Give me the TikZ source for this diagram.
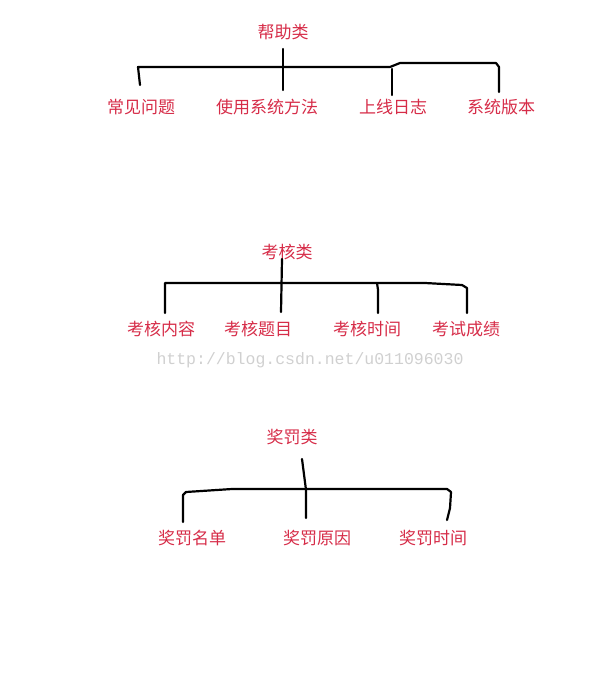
\documentclass[tikz,border=0pt]{standalone}
\usepackage{fontspec}
\newfontfamily\cjk{Noto Sans CJK SC}
\setmonofont{Liberation Mono}
\definecolor{labelred}{RGB}{214,44,72}
\definecolor{markgray}{RGB}{208,208,208}
\tikzset{
  item/.style={text=labelred, font=\cjk\fontsize{17}{19}\selectfont, inner sep=0pt},
  branch/.style={line width=2.2pt, line cap=round, line join=round},
}

\begin{document}
\begin{tikzpicture}[x=1pt, y=-1pt]
        \useasboundingbox (0,0) rectangle (600,700);

        % Help
        \node [item] (help) at (283,32) {帮助类};
        \node [item] (help1) at (141,107) {常见问题};
        \node [item] (help2) at (267,107) {使用系统方法};
        \node [item] (help3) at (393,107) {上线日志};
        \node [item] (help4) at (501,107) {系统版本};

        \coordinate (hTop) at (283,49);
        \coordinate (hStem) at (283,90);
        \coordinate (hL) at (138,67);
        \coordinate (hEnd1) at (140,85);
        \coordinate (hBend) at (390,67);
        \coordinate (hRaise) at (400,63);
        \coordinate (hR) at (496,63);
        \coordinate (hEnd4) at (499,92);
        \coordinate (hJoin3) at (392,69);
        \coordinate (hEnd3) at (392,95);

        \draw [branch] (hTop) -- (hStem);
        \draw [branch] (hEnd1) -- (hL) -- (hBend) -- (hRaise) -- (hR) -- ++(3,4) -- (hEnd4);
        \draw [branch] (hJoin3) -- (hEnd3);

        % Exam
        \node [item] (exam) at (287,252) {考核类};
        \node [item] (exam1) at (161,329) {考核内容};
        \node [item] (exam2) at (258,329) {考核题目};
        \node [item] (exam3) at (367,329) {考核时间};
        \node [item] (exam4) at (466,329) {考试成绩};

        \coordinate (eTop) at (282,259);
        \coordinate (eStem) at (281,312);
        \coordinate (eL) at (165,283);
        \coordinate (eEnd1) at (165,313);
        \coordinate (eBend) at (425,283);
        \coordinate (eR) at (462,285);
        \coordinate (eEnd4) at (467,313);
        \coordinate (eJoin3) at (377,283);
        \coordinate (eEnd3) at (378,313);

        \draw [branch] (eTop) -- (eStem);
        \draw [branch] (eEnd1) -- ++(0,-27) -- (eL) -- (eBend) -- (eR) -- ++(5,3) -- (eEnd4);
        \draw [branch] (eJoin3) -- ++(1,7) -- (eEnd3);

        % Watermark
        \node [text=markgray, font=\ttfamily\fontsize{16.5}{18}\selectfont, inner sep=0pt] (mark) at (310,360) {http://blog.csdn.net/u011096030};

        % Prize
        \node [item] (prize) at (292,437) {奖罚类};
        \node [item] (prize1) at (192,538) {奖罚名单};
        \node [item] (prize2) at (317,538) {奖罚原因};
        \node [item] (prize3) at (433,538) {奖罚时间};

        \coordinate (pTop) at (302,459);
        \coordinate (pJoin) at (306,490);
        \coordinate (pStem) at (306,518);
        \coordinate (pL) at (186,492);
        \coordinate (pEnd1) at (183,522);
        \coordinate (pBend) at (232,489);
        \coordinate (pR) at (447,489);
        \coordinate (pEnd3) at (447,520);

        \draw [branch] (pTop) -- (pJoin) -- (pStem);
        \draw [branch] (pEnd1) -- ++(0,-27) -- (pL) -- (pBend) -- (pR) -- ++(4,3) -- ++(-1,16) -- (pEnd3);
\end{tikzpicture}
\end{document}
